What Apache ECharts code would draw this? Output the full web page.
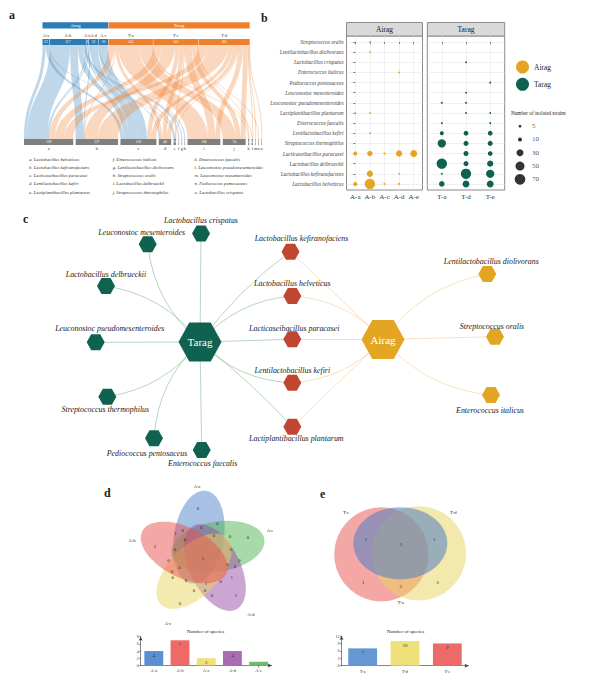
<!DOCTYPE html>
<html>
<head>
<meta charset="utf-8">
<title>Airag and Tarag lactic acid bacteria</title>
<script src="https://cdn.jsdelivr.net/npm/echarts@6.0.0/dist/echarts.min.js"></script>
<style>html,body{margin:0;padding:0;background:#fff;}#chart{width:607px;height:679px;}</style>
</head>
<body>
<div id="chart"></div>
<script>
// ================= DATA =================
const speciesLetters = ['a','b','c','d','e','f','g','h','i','j','k','l','m','n','o'];
const speciesNames = [
  'Lactobacillus helveticus','Lactobacillus kefiranofaciens','Lacticaseibacillus paracasei',
  'Lentilactobacillus kefiri','Lactiplantibacillus plantarum','Enterococcus italicus',
  'Lentilactobacillus diolivorans','Streptococcus oralis','Lactobacillus delbrueckii',
  'Streptococcus thermophilus','Enterococcus faecalis','Leuconostoc pseudomesenteroides',
  'Leuconostoc mesenteroides','Pediococcus pentosaceus','Lactobacillus crispatus'];
const airagSamples = ['A-a','A-b','A-c','A-d','A-e'];
const taragSamples = ['T-a','T-d','T-e'];
const sankeySampleOrder = ['A-a','A-b','A-c','A-d','A-e','T-a','T-e','T-d'];
// number of isolated strains per sample, species order a..o
const countsAa = [10, 0,10, 0, 2, 0, 0, 0, 0, 0, 0, 0, 0, 0, 0];
const countsAb = [66,25,18, 2, 2, 0, 2, 2, 0, 0, 0, 0, 0, 0, 0];
const countsAc = [ 3, 0, 3, 0, 0, 0, 0, 0, 0, 0, 0, 0, 0, 0, 0];
const countsAd = [ 3, 2,25, 0, 0, 2, 0, 0, 0, 0, 0, 0, 0, 0, 0];
const countsAe = [ 0, 0,30, 0, 0, 0, 0, 0, 0, 0, 0, 0, 0, 0, 0];
const countsTa = [19, 2, 0,10, 0, 0, 0, 0,66,42, 2, 2, 0, 0, 0];
const countsTd = [29,66,16,14, 2, 0, 0, 0,16,16, 0, 2, 2, 0, 2];
const countsTe = [29,42,14,14, 2, 0, 0, 0,24,16, 2, 0, 0, 2, 0];
const bubbleRowLetters = ['h','g','o','f','n','m','l','e','k','d','j','c','i','b','a'];
const sizeLegendValues = [5,10,30,50,70];
// network
const netHubs = ['Tarag','Airag'];
const netTaragOnly = ['Lactobacillus crispatus','Leuconostoc mesenteroides','Lactobacillus delbrueckii',
  'Leuconostoc pseudomesenteroides','Streptococcus thermophilus','Pediococcus pentosaceus','Enterococcus faecalis'];
const netShared = ['Lactobacillus kefiranofaciens','Lactobacillus helveticus','Lacticaseibacillus paracasei',
  'Lentilactobacillus kefiri','Lactiplantibacillus plantarum'];
const netAiragOnly = ['Lentilactobacillus diolivorans','Streptococcus oralis','Enterococcus italicus'];
// venn d (Airag)
const vennDSets = ['A-a','A-e','A-d','A-c','A-b'];
const vennDRegionCounts = [0,0,3,0,1,1,1,0,0,0,0,0,0,0,0,0,0,1,0,1,0,0,0,0,0,0,0,0,0];
const speciesPerAirag = [4,7,2,4,1];
// venn e (Tarag)
const vennESets = ['T-e','T-d','T-a'];
const vennERegionCounts = [1,5,1,1,2,2];
const speciesPerTarag = [7,10,9];

// ================= LAYOUT / STYLE =================
const SERIF = '"Liberation Serif","DejaVu Serif","Times New Roman",serif';
const C_AIRAG = '#e4a622', C_TARAG = '#0f6150', C_SHARED = '#bf4731';
const C_SK_A = '#2b7bb7', C_SK_T = '#ee7f2b';
const sampleCounts = {'A-a':countsAa,'A-b':countsAb,'A-c':countsAc,'A-d':countsAd,'A-e':countsAe,
                      'T-a':countsTa,'T-d':countsTd,'T-e':countsTe};
const sum = a => a.reduce((p,q)=>p+q,0);

// ---- sankey (panel a)
const sankeyNodes = [];
sankeySampleOrder.forEach(s => {
  const tot = sum(sampleCounts[s]);
  sankeyNodes.push({name:s, value:tot, itemStyle:{color: s[0]==='A'?C_SK_A:C_SK_T},
    label:{position:'inside', offset:[0,-3.2], formatter:'{n|'+s+'}\n{v|'+tot+'}'}});
});
speciesLetters.forEach((L,i) => {
  let tot = 0; sankeySampleOrder.forEach(s => tot += sampleCounts[s][i]);
  sankeyNodes.push({name:L, value:tot, itemStyle:{color:'#7f7f7f'},
    label:{position:'inside', offset:[0,3.4], formatter:'{v|'+tot+'}\n{n|'+L+'}'}});
});
const sankeyLinks = [];
sankeySampleOrder.forEach(s => sampleCounts[s].forEach((v,i) => {
  if (v > 0) sankeyLinks.push({source:s, target:speciesLetters[i], value:v});
}));

// ---- bubbles (panel b)
function bubbleData(samples){
  const out = [];
  samples.forEach((s,xi) => sampleCounts[s].forEach((v,i) => {
    if (v > 0) out.push([xi, bubbleRowLetters.indexOf(speciesLetters[i]), v]);
  }));
  return out;
}
const bubbleSize = v => 1.27*Math.sqrt(v);
const rowIdx = bubbleRowLetters.map((_,i)=>i);
const rowName = v => speciesNames[speciesLetters.indexOf(bubbleRowLetters[Math.round(v)])];

// ---- network (panel c)
const netPos = {
  'Tarag':[200,342], 'Airag':[383,339.5],
  'Lactobacillus crispatus':[201,233.5], 'Leuconostoc mesenteroides':[147.7,244.3],
  'Lactobacillus delbrueckii':[106,286], 'Leuconostoc pseudomesenteroides':[95.7,342.3],
  'Streptococcus thermophilus':[107.3,396.7], 'Pediococcus pentosaceus':[154,438.3],
  'Enterococcus faecalis':[201.7,450],
  'Lactobacillus kefiranofaciens':[290.5,251.7], 'Lactobacillus helveticus':[292.3,296],
  'Lacticaseibacillus paracasei':[292.3,339.3], 'Lentilactobacillus kefiri':[292.3,382.7],
  'Lactiplantibacillus plantarum':[292.3,426.7],
  'Lentilactobacillus diolivorans':[487.3,274], 'Streptococcus oralis':[495,336.7],
  'Enterococcus italicus':[491,395]
};
// [position, distance, dx]
const netLabel = {
  'Lactobacillus crispatus':['top',1,0], 'Leuconostoc mesenteroides':['top',0,-6],
  'Lactobacillus delbrueckii':['top',0,0], 'Leuconostoc pseudomesenteroides':['top',1.5,14],
  'Streptococcus thermophilus':['bottom',1,-2], 'Pediococcus pentosaceus':['bottom',3.5,-7],
  'Enterococcus faecalis':['bottom',1.5,1],
  'Lactobacillus kefiranofaciens':['top',1,11], 'Lactobacillus helveticus':['top',0.5,0],
  'Lacticaseibacillus paracasei':['top',-1,2], 'Lentilactobacillus kefiri':['top',0,0],
  'Lactiplantibacillus plantarum':['bottom',0,4],
  'Lentilactobacillus diolivorans':['top',0.5,4], 'Streptococcus oralis':['top',-1.5,-3],
  'Enterococcus italicus':['bottom',3,-1]
};
const netCurve = {
  'Tarag|Lactobacillus crispatus':0, 'Tarag|Leuconostoc mesenteroides':0.2,
  'Tarag|Lactobacillus delbrueckii':-0.2, 'Tarag|Leuconostoc pseudomesenteroides':0,
  'Tarag|Streptococcus thermophilus':0.2, 'Tarag|Pediococcus pentosaceus':-0.2,
  'Tarag|Enterococcus faecalis':0, 'Tarag|Lactobacillus kefiranofaciens':0.08,
  'Tarag|Lactobacillus helveticus':0.2, 'Tarag|Lacticaseibacillus paracasei':0,
  'Tarag|Lentilactobacillus kefiri':-0.2, 'Tarag|Lactiplantibacillus plantarum':0.04,
  'Airag|Lactobacillus kefiranofaciens':0, 'Airag|Lactobacillus helveticus':-0.2,
  'Airag|Lacticaseibacillus paracasei':0, 'Airag|Lentilactobacillus kefiri':0.2,
  'Airag|Lactiplantibacillus plantarum':0, 'Airag|Lentilactobacillus diolivorans':0.2,
  'Airag|Streptococcus oralis':0, 'Airag|Enterococcus italicus':-0.2
};
const HEX = 'path://M25,0L75,0L100,50L75,100L25,100L0,50Z';
const netNodes = [];
netHubs.forEach(h => netNodes.push({name:h, value:netPos[h], symbolSize:[43,39],
  itemStyle:{color: h==='Tarag'?C_TARAG:C_AIRAG},
  label:{show:true, position:'inside', color:'#fff', fontSize:11, fontFamily:SERIF}}));
function leaf(list, color){
  list.forEach(n => { const L = netLabel[n];
    netNodes.push({name:n, value:netPos[n], symbolSize:[18,16], itemStyle:{color},
      label:{show:true, position:L[0], distance:L[1], offset:[L[2],0], color:'#1a1a1a',
             fontSize:7.9, fontStyle:'italic', fontFamily:SERIF}});
  });
}
leaf(netTaragOnly, C_TARAG); leaf(netShared, C_SHARED); leaf(netAiragOnly, C_AIRAG);
const netLinks = [];
function links(hub, list, color){
  list.forEach(n => netLinks.push({source:hub, target:n,
    lineStyle:{color, width:1, curveness: netCurve[hub+'|'+n] || 0}}));
}
links('Tarag', netTaragOnly.concat(netShared), '#6fae84');
links('Airag', netShared.concat(netAiragOnly), '#f1c47f');

// ---- venn d geometry
const vdGeo = {cx:202, cy:555, r:18, a:47, b:25, theta0:-100, phi0:-81};
const vdColors = {'A-a':'#4f84cc','A-b':'#e8514b','A-c':'#ead45f','A-d':'#9b4ca6','A-e':'#52b452'};
const vdEllipses = vennDSets.map((s,i) => {
  const th = (vdGeo.theta0 + 72*i)*Math.PI/180;
  return [vdGeo.cx + vdGeo.r*Math.cos(th), vdGeo.cy + vdGeo.r*Math.sin(th), vdGeo.a, vdGeo.b, vdGeo.phi0 + 72*i];
});
const vdRegionPos = [[198,508],[248,537],[155,546],[180,603],[236,595],[203,558],[175.3,533.3],
  [185,539],[214,535.3],[230,536],[175,549.3],[231,549],[168.3,560],[179.3,567.7],[172,571],
  [172.7,577.5],[186,580.7],[206,583.3],[220.7,581],[231.7,577.3],[235,566.7],[227.3,564.3],
  [239.3,560.7],[194,590.7],[205,590.7],[212,595],[201.3,527.7],[217.3,523.3],[182.7,530]];
const vdSetLabelPos = {'A-a':[197,486],'A-e':[270,530],'A-d':[251,614],'A-c':[168,623],'A-b':[132,540]};
// ---- venn e geometry
const veShapes = {'T-e':[381.3,554.3,47,47,0], 'T-d':[419,553.3,47,47,0], 'T-a':[400.3,543.3,47,36,0]};
const veColors = {'T-e':'#e8514b','T-d':'#e8d45c','T-a':'#4f7ec2'};
const veOpacity = {'T-e':0.5,'T-d':0.5,'T-a':0.55};
const veRegionPos = [[366,539.3],[400.7,544.7],[434.3,539.3],[363.3,582.7],[400.7,586.7],[437.7,582.7]];
const veSetLabelPos = {'T-e':[346,512.7],'T-d':[453.3,512.7],'T-a':[400.7,602.7]};
const barColD = ['#5b8fd3','#ee6a64','#eee07a','#a96bb2','#6fbb6b'];
const barColE = ['#6497d4','#efe07a','#ec6b66'];

// ---- text layer
const texts = [];
function T(x,y,text,o){ texts.push(Object.assign({x,y,text,size:5,color:'#222',align:'center',style:'normal',weight:'normal'},o||{})); }
T(9,15,'a',{size:12,weight:'bold',align:'left'}); T(261,18,'b',{size:12,weight:'bold',align:'left'});
T(23,219,'c',{size:12,weight:'bold',align:'left'}); T(104,493,'d',{size:12,weight:'bold',align:'left'});
T(320,494,'e',{size:12,weight:'bold',align:'left'});
const legCol = [29,112.7,194.5], legRow = [159,167.2,175.5,183.7,192];
speciesLetters.forEach((L,i) => T(legCol[Math.floor(i/5)], legRow[i%5], L+'. '+speciesNames[i],
  {size:4.7, style:'italic', align:'left', color:'#333'}));
T(511,113,'Number of isolated strains',{size:5.2,align:'left',color:'#222'});
vennDSets.forEach(s => T(vdSetLabelPos[s][0], vdSetLabelPos[s][1], s, {size:4.5}));
vdRegionPos.forEach((p,i) => T(p[0],p[1],String(vennDRegionCounts[i]),{size:4.6}));
vennESets.forEach(s => T(veSetLabelPos[s][0], veSetLabelPos[s][1], s, {size:4.8}));
veRegionPos.forEach((p,i) => T(p[0],p[1],String(vennERegionCounts[i]),{size:5}));
T(205.5,631.7,'Number of species',{size:5}); T(405.5,631.7,'Number of species',{size:5});

// ================= CHART =================
const chart = echarts.init(document.getElementById('chart'), null, {renderer:'svg', width:607, height:679});
const axisTxt = {fontFamily:SERIF, color:'#333'};
const SK = {left:24, right:345, top:39, bottom:534};

function buildOption(groupBarData){
  return {
    animation:false,
    backgroundColor:'#fff',
    textStyle:{fontFamily:SERIF},
    legend:{data:['Airag','Tarag'], orient:'vertical', left:511, top:55.5, icon:'circle',
      itemWidth:13, itemHeight:13, itemGap:4.3, selectedMode:false,
      textStyle:{fontFamily:SERIF, fontSize:7.5, color:'#222'}},
    grid:[
      {left:0, top:0, width:607, height:679},
      {left:346.5, top:36, width:76, height:154, show:true, borderColor:'#8a8a8a', borderWidth:1},
      {left:427.3, top:36, width:77.4, height:154, show:true, borderColor:'#8a8a8a', borderWidth:1},
      {left:515, top:119.5, width:10, height:66.5},
      {left:140.7, top:636.7, width:131, height:28.7},
      {left:341.5, top:636, width:127, height:29.7}
    ],
    xAxis:[
      {gridIndex:0, type:'value', min:0, max:607, show:false},
      {gridIndex:1, type:'value', min:-0.6, max:4.6,
        axisLine:{show:false},
        axisTick:{show:true, customValues:[0,1,2,3,4], length:2, lineStyle:{color:'#333',width:0.6}},
        axisLabel:{customValues:[0,1,2,3,4], formatter:v=>airagSamples[Math.round(v)], fontSize:7, margin:3, ...axisTxt},
        splitLine:{show:true, lineStyle:{color:'#e6e6e6', width:0.6}}},
      {gridIndex:2, type:'value', min:-0.6, max:2.6,
        axisLine:{show:false},
        axisTick:{show:true, customValues:[0,1,2], length:2, lineStyle:{color:'#333',width:0.6}},
        axisLabel:{customValues:[0,1,2], formatter:v=>taragSamples[Math.round(v)], fontSize:7, margin:3, ...axisTxt},
        splitLine:{show:true, lineStyle:{color:'#e6e6e6', width:0.6}}},
      {gridIndex:3, type:'value', min:0, max:1, show:false},
      {gridIndex:4, type:'category', data:airagSamples,
        axisLine:{lineStyle:{color:'#333',width:0.6}, symbol:['none','arrow'], symbolSize:[3,4]},
        axisTick:{show:false}, axisLabel:{fontSize:4.5, margin:3, ...axisTxt}},
      {gridIndex:5, type:'category', data:taragSamples,
        axisLine:{lineStyle:{color:'#333',width:0.6}, symbol:['none','arrow'], symbolSize:[3,4]},
        axisTick:{show:false}, axisLabel:{fontSize:4.5, margin:3, ...axisTxt}}
    ],
    yAxis:[
      {gridIndex:0, type:'value', min:0, max:679, inverse:true, show:false},
      {gridIndex:1, type:'value', min:-0.6, max:14.6, inverse:true,
        axisLine:{show:false},
        axisTick:{show:true, customValues:rowIdx, length:2, lineStyle:{color:'#333',width:0.6}},
        axisLabel:{customValues:rowIdx, formatter:rowName, fontSize:5.3, fontStyle:'italic', margin:3, fontFamily:SERIF, color:'#444'},
        splitLine:{show:true, lineStyle:{color:'#e6e6e6', width:0.6}}},
      {gridIndex:2, type:'value', min:-0.6, max:14.6, inverse:true,
        axisLine:{show:false}, axisTick:{show:false, customValues:rowIdx},
        axisLabel:{show:false, customValues:rowIdx},
        splitLine:{show:true, lineStyle:{color:'#e6e6e6', width:0.6}}},
      {gridIndex:3, type:'category', data:sizeLegendValues.map(String), inverse:true, show:false},
      {gridIndex:4, type:'value', min:0, max:8, interval:2,
        axisLine:{show:true, lineStyle:{color:'#333',width:0.6}, symbol:['none','arrow'], symbolSize:[3,4]},
        axisTick:{show:true, length:1.5, lineStyle:{width:0.5}}, axisLabel:{fontSize:4, margin:2, ...axisTxt},
        splitLine:{show:false}},
      {gridIndex:5, type:'value', min:0, max:12, interval:3,
        axisLine:{show:true, lineStyle:{color:'#333',width:0.6}, symbol:['none','arrow'], symbolSize:[3,4]},
        axisTick:{show:true, length:1.5, lineStyle:{width:0.5}}, axisLabel:{fontSize:4, margin:2, ...axisTxt},
        splitLine:{show:false}}
    ],
    graphic:[
      {type:'rect', shape:{x:346.5, y:22.5, width:76, height:13.5}, style:{fill:'#d9d9d9', stroke:'#8a8a8a', lineWidth:1}},
      {type:'text', x:384.5, y:29.5, style:{text:'Airag', fill:'#1a1a1a', font:'7.5px '+SERIF, align:'center', verticalAlign:'middle'}},
      {type:'rect', shape:{x:427.3, y:22.5, width:77.4, height:13.5}, style:{fill:'#d9d9d9', stroke:'#8a8a8a', lineWidth:1}},
      {type:'text', x:466, y:29.5, style:{text:'Tarag', fill:'#1a1a1a', font:'7.5px '+SERIF, align:'center', verticalAlign:'middle'}}
    ],
    series:[
      {type:'sankey', id:'sankey', orient:'vertical', left:SK.left, right:SK.right, top:SK.top, bottom:SK.bottom,
        nodeWidth:6, nodeGap:2.4, layoutIterations:0, draggable:false, silent:true,
        emphasis:{disabled:true},
        data:sankeyNodes, links:sankeyLinks,
        itemStyle:{borderWidth:0},
        lineStyle:{color:'source', opacity:0.3, curveness:0.5},
        label:{show:true, fontFamily:SERIF,
          rich:{n:{fontSize:4.3, color:'#333', lineHeight:6, fontFamily:SERIF},
                v:{fontSize:3.6, color:'#fff', lineHeight:6, fontFamily:SERIF}}}},
      {type:'custom', id:'groupbar', coordinateSystem:'cartesian2d', xAxisIndex:0, yAxisIndex:0, silent:true,
        data:groupBarData, encode:{x:[0,1], y:2},
        renderItem:(p,api)=>{
          const a = api.coord([api.value(0), 22.3]), b = api.coord([api.value(1), 28.5]);
          const g = groupBarData[p.dataIndex][3];
          return {type:'group', children:[
            {type:'rect', shape:{x:a[0], y:a[1], width:b[0]-a[0], height:b[1]-a[1]}, style:{fill: g==='Airag'?C_SK_A:C_SK_T}},
            {type:'text', x:(a[0]+b[0])/2, y:(a[1]+b[1])/2, style:{text:g, fill:'#fff', font:'4.5px '+SERIF, align:'center', verticalAlign:'middle'}}
          ]};
        }},
      {type:'scatter', name:'Airag', xAxisIndex:1, yAxisIndex:1, data:bubbleData(airagSamples),
        symbolSize:d=>bubbleSize(d[2]), itemStyle:{color:C_AIRAG, opacity:1}, silent:true, clip:false},
      {type:'scatter', name:'Tarag', xAxisIndex:2, yAxisIndex:2, data:bubbleData(taragSamples),
        symbolSize:d=>bubbleSize(d[2]), itemStyle:{color:C_TARAG, opacity:1}, silent:true, clip:false},
      {type:'scatter', name:'size', xAxisIndex:3, yAxisIndex:3, silent:true,
        data:sizeLegendValues.map(v=>({value:[0.5,String(v)], symbolSize:bubbleSize(v),
          label:{show:true, position:'right', distance:12-bubbleSize(v)/2, formatter:String(v),
                 fontSize:7, fontFamily:SERIF, color:'#222'}})),
        itemStyle:{color:'#000'}},
      {type:'graph', coordinateSystem:'cartesian2d', xAxisIndex:0, yAxisIndex:0, layout:'none',
        symbol:HEX, data:netNodes, links:netLinks, silent:true, emphasis:{disabled:true},
        edgeSymbol:['none','none'], z:3},
      {type:'custom', coordinateSystem:'cartesian2d', xAxisIndex:0, yAxisIndex:0, silent:true,
        data:vdEllipses, encode:{x:0, y:1}, renderItem:(p,api)=>ellipse(api, vdColors[vennDSets[p.dataIndex]], 0.5)},
      {type:'custom', coordinateSystem:'cartesian2d', xAxisIndex:0, yAxisIndex:0, silent:true,
        data:vennESets.map(s=>veShapes[s]), encode:{x:0, y:1},
        renderItem:(p,api)=>ellipse(api, veColors[vennESets[p.dataIndex]], veOpacity[vennESets[p.dataIndex]])},
      {type:'bar', xAxisIndex:4, yAxisIndex:4, barWidth:'72%', silent:true,
        data:speciesPerAirag.map((v,i)=>({value:v, itemStyle:{color:barColD[i]}})),
        label:{show:true, position:'insideTop', distance:2, fontSize:5, color:'#333', fontFamily:SERIF}},
      {type:'bar', xAxisIndex:5, yAxisIndex:5, barWidth:'68%', silent:true,
        data:speciesPerTarag.map((v,i)=>({value:v, itemStyle:{color:barColE[i]}})),
        label:{show:true, position:'insideTop', distance:2, fontSize:5, color:'#333', fontFamily:SERIF}},
      {type:'custom', coordinateSystem:'cartesian2d', xAxisIndex:0, yAxisIndex:0, silent:true, z:10,
        data:texts.map(t=>[t.x,t.y]), encode:{x:0,y:1},
        renderItem:(p,api)=>{
          const t = texts[p.dataIndex]; const c = api.coord([t.x,t.y]);
          return {type:'text', x:c[0], y:c[1], style:{text:t.text, fill:t.color,
            font:t.style+' '+t.weight+' '+t.size+'px '+SERIF, align:t.align, verticalAlign:'middle'}};
        }}
    ]
  };
}
function ellipse(api, color, op){
  const cx=api.value(0), cy=api.value(1), a=api.value(2), b=api.value(3), ph=api.value(4)*Math.PI/180;
  const pts=[];
  for(let k=0;k<96;k++){
    const t=k/96*2*Math.PI;
    pts.push(api.coord([cx + a*Math.cos(t)*Math.cos(ph) - b*Math.sin(t)*Math.sin(ph),
                        cy + a*Math.cos(t)*Math.sin(ph) + b*Math.sin(t)*Math.cos(ph)]));
  }
  return {type:'polygon', shape:{points:pts}, style:{fill:color, opacity:op}};
}

chart.setOption(buildOption([]));
// pack the sample nodes (top row) side by side, starting where the reference row starts
let gb = [[43,101,25,'Airag'],[101,245,25,'Tarag']];
try {
  const sm = chart.getModel().getSeriesByIndex(0);
  const d = sm.getData(); const li = sm.layoutInfo;
  const W = li.width; let pos = 42.5 - li.x;
  const ext = {Airag:[Infinity,-Infinity], Tarag:[Infinity,-Infinity]};
  sankeySampleOrder.forEach((s, i) => {
    const l = d.getItemLayout(i);
    sankeyNodes[i].localX = pos / W;
    const g = s[0]==='A'?'Airag':'Tarag';
    ext[g][0] = Math.min(ext[g][0], li.x + pos); ext[g][1] = Math.max(ext[g][1], li.x + pos + l.dx);
    pos += l.dx + 0.4;
  });
  gb = [[ext.Airag[0], ext.Airag[1], 25, 'Airag'], [ext.Tarag[0], ext.Tarag[1], 25, 'Tarag']];
} catch(e) {}
chart.setOption(buildOption(gb), true);
</script>
</body>
</html>
